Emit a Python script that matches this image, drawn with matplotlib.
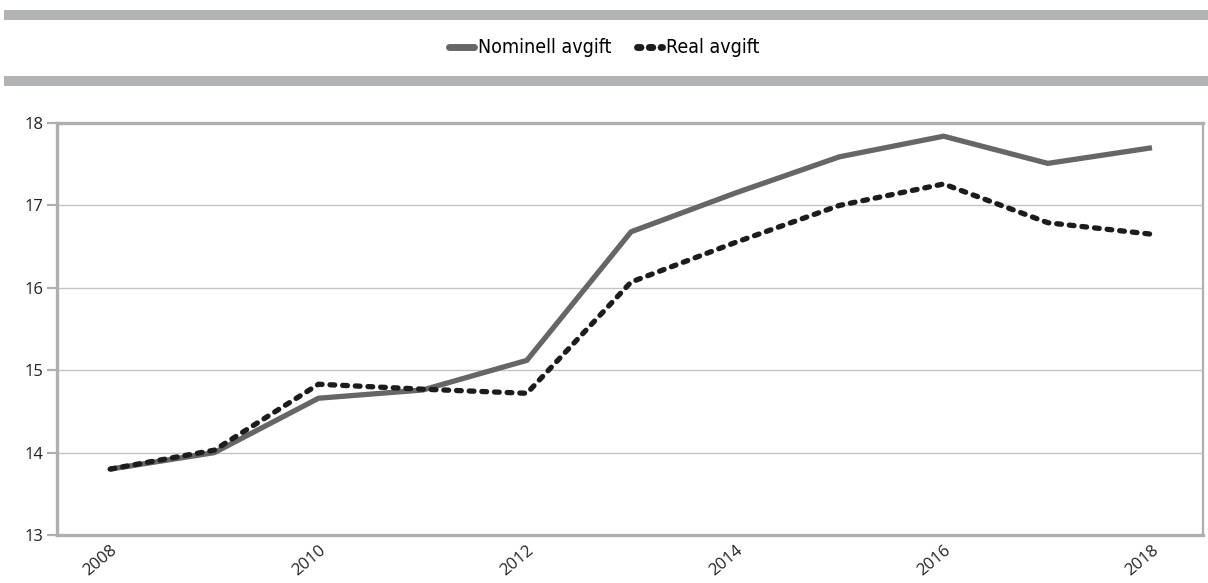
import matplotlib
matplotlib.use('Agg')
import matplotlib.pyplot as plt
from matplotlib.patches import Rectangle
from matplotlib.lines import Line2D

years = [2008, 2009, 2010, 2011, 2012, 2013, 2014, 2015, 2016, 2017, 2018]
nominell = [13.80, 14.00, 14.66, 14.76, 15.12, 16.68, 17.15, 17.59, 17.84, 17.51, 17.70]
real = [13.80, 14.03, 14.83, 14.77, 14.72, 16.07, 16.55, 17.00, 17.26, 16.79, 16.65]
xtick_labels = ['2008', '2010', '2012', '2014', '2016', '2018']

GRAY_BAR = '#b2b3b5'
AXIS_GRAY = '#aeafb1'

fig = plt.figure(figsize=(12.08, 5.83), dpi=100)

# decorative bars round the legend
fig.add_artist(Rectangle((0.003, 0.966), 0.997, 0.017, transform=fig.transFigure,
                         color=GRAY_BAR, lw=0))
fig.add_artist(Rectangle((0.003, 0.852), 0.997, 0.017, transform=fig.transFigure,
                         color=GRAY_BAR, lw=0))

ax = fig.add_axes([0.0472, 0.0823, 0.9487, 0.7067])

ax.plot(years, nominell, color='#666666', lw=3.8, solid_joinstyle='miter',
        solid_capstyle='butt', label='Nominell avgift', zorder=3)
ax.plot(years, real, color='#1c1c1c', lw=3.8, linestyle=(0, (0.9, 1.5)),
        dash_capstyle='round', label='Real avgift', zorder=4)

ax.set_xlim(2007.49, 2018.49)
ax.set_ylim(13, 18)
ax.set_yticks([13, 14, 15, 16, 17, 18])
ax.set_xticks([int(t) for t in xtick_labels])
ax.set_xticklabels(xtick_labels, rotation=40, ha='right', rotation_mode='anchor')

ax.grid(axis='y', color='#c4c4c4', lw=1.0)
ax.set_axisbelow(True)

for side in ['left', 'bottom', 'top']:
    ax.spines[side].set_color(AXIS_GRAY)
    ax.spines[side].set_linewidth(2.4)
ax.spines['right'].set_color(AXIS_GRAY)
ax.spines['right'].set_linewidth(1.6)

ax.tick_params(axis='y', length=7, width=1.6, color=AXIS_GRAY, labelsize=12,
               labelcolor='#222222', pad=3)
ax.tick_params(axis='x', length=0, labelsize=12, labelcolor='#222222', pad=5)
for lab in ax.get_xticklabels() + ax.get_yticklabels():
    lab.set_fontfamily('Open Sans')

handles = [Line2D([], [], color='#666666', lw=5, solid_capstyle='round'),
           Line2D([], [], color='#1c1c1c', lw=5, linestyle=(0, (0.5, 1.2)),
                  dash_capstyle='round')]
fig.legend(handles, ['Nominell avgift', 'Real avgift'], loc='center',
           bbox_to_anchor=(0.5, 0.918), ncol=2, frameon=False, handlelength=1.3,
           handletextpad=0.2, columnspacing=1.3,
           prop={'family': 'DejaVu Sans', 'stretch': 'condensed', 'size': 14})

fig.savefig('out.png', dpi=100)
